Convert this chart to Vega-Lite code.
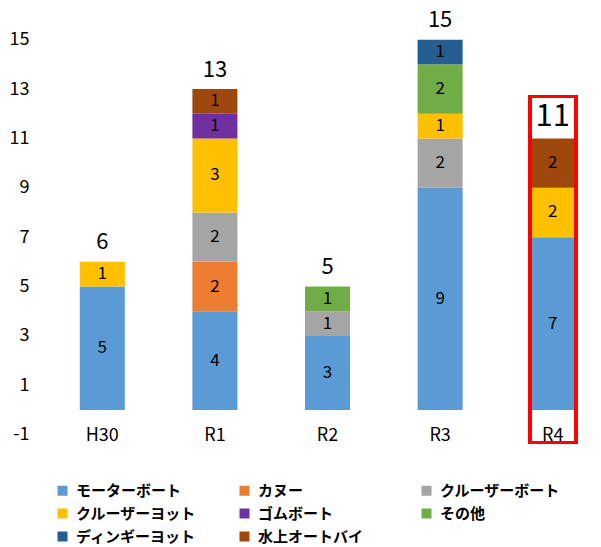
{
  "$schema": "https://vega.github.io/schema/vega-lite/v6.json",
  "autosize": {"type": "none"},
  "width": 554,
  "height": 432,
  "padding": {"left": 47, "top": 15, "right": 0, "bottom": 100},
  "background": "white",
  "config": {
    "font": "Noto Sans CJK JP",
    "view": {"stroke": null}
  },
  "data": {
    "values": [
      {"year": "H30", "type": "モーターボート", "count": 5},
      {"year": "H30", "type": "クルーザーヨット", "count": 1},
      {"year": "R1", "type": "モーターボート", "count": 4},
      {"year": "R1", "type": "カヌー", "count": 2},
      {"year": "R1", "type": "クルーザーボート", "count": 2},
      {"year": "R1", "type": "クルーザーヨット", "count": 3},
      {"year": "R1", "type": "ゴムボート", "count": 1},
      {"year": "R1", "type": "水上オートバイ", "count": 1},
      {"year": "R2", "type": "モーターボート", "count": 3},
      {"year": "R2", "type": "クルーザーボート", "count": 1},
      {"year": "R2", "type": "その他", "count": 1},
      {"year": "R3", "type": "モーターボート", "count": 9},
      {"year": "R3", "type": "クルーザーボート", "count": 2},
      {"year": "R3", "type": "クルーザーヨット", "count": 1},
      {"year": "R3", "type": "その他", "count": 2},
      {"year": "R3", "type": "ディンギーヨット", "count": 1},
      {"year": "R4", "type": "モーターボート", "count": 7},
      {"year": "R4", "type": "クルーザーヨット", "count": 2},
      {"year": "R4", "type": "水上オートバイ", "count": 2}
    ]
  },
  "transform": [
    {"window": [{"op": "row_number", "as": "seq"}]}
  ],
  "encoding": {
    "x": {
      "field": "year",
      "type": "nominal",
      "sort": ["H30", "R1", "R2", "R3", "R4"],
      "scale": {"paddingInner": 0.6, "paddingOuter": 0.26, "align": 0.56},
      "axis": {
        "title": null,
        "domain": false,
        "ticks": false,
        "tickSize": 0,
        "labelAngle": 0,
        "labelFontSize": 18,
        "labelColor": "#000000",
        "labelBaseline": "middle",
        "labelPadding": -12
      }
    }
  },
  "layer": [
    {
      "mark": {"type": "bar"},
      "encoding": {
        "y": {
          "field": "count",
          "type": "quantitative",
          "stack": "zero",
          "scale": {"domain": [-1.5, 16], "nice": false, "zero": false},
          "axis": {
            "title": null,
            "values": [-1, 1, 3, 5, 7, 9, 11, 13, 15],
            "labelExpr": "datum.value < 0 ? '-' + abs(datum.value) : datum.label",
            "domain": false,
            "ticks": false,
            "tickSize": 0,
            "grid": false,
            "labelFontSize": 18,
            "labelColor": "#000000",
            "labelPadding": 18
          }
        },
        "order": {"field": "seq", "type": "quantitative"},
        "color": {
          "field": "type",
          "type": "nominal",
          "sort": ["モーターボート", "カヌー", "クルーザーボート", "クルーザーヨット", "ゴムボート", "その他", "ディンギーヨット", "水上オートバイ"],
          "scale": {
            "domain": ["モーターボート", "カヌー", "クルーザーボート", "クルーザーヨット", "ゴムボート", "その他", "ディンギーヨット", "水上オートバイ"],
            "range": ["#5B9BD5", "#ED7D31", "#A5A5A5", "#FFC000", "#7030A0", "#70AD47", "#255E91", "#9E480E"]
          },
          "legend": {
            "title": null,
            "orient": "none",
            "legendX": 8,
            "legendY": 468,
            "direction": "horizontal",
            "columns": 3,
            "gridAlign": "all",
            "columnPadding": 40,
            "rowPadding": 7,
            "symbolType": "square",
            "symbolSize": 100,
            "symbolStrokeWidth": 0,
            "labelOffset": 6,
            "labelFontSize": 15,
            "labelFontWeight": "bold",
            "labelColor": "#000000",
            "labelLimit": 300
          }
        }
      }
    },
    {
      "mark": {"type": "text", "fontSize": 17, "color": "#000000", "baseline": "middle"},
      "encoding": {
        "y": {"field": "count", "type": "quantitative", "stack": "zero", "bandPosition": 0.5},
        "text": {"field": "count", "type": "quantitative"},
        "order": {"field": "seq", "type": "quantitative"},
        "detail": {"field": "type", "type": "nominal"}
      }
    },
    {
      "transform": [
        {"aggregate": [{"op": "sum", "field": "count", "as": "total"}], "groupby": ["year"]}
      ],
      "mark": {"type": "text", "color": "#000000", "baseline": "alphabetic", "dy": -12.5},
      "encoding": {
        "y": {"field": "total", "type": "quantitative"},
        "text": {"field": "total", "type": "quantitative"},
        "size": {"condition": {"test": "datum.year === 'R4'", "value": 31}, "value": 22}
      }
    },
    {
      "mark": {"type": "rule", "color": "#D9D9D9", "strokeWidth": 1.5},
      "encoding": {"y": {"datum": 0}}
    },
    {
      "mark": {"type": "bar", "fill": "transparent", "stroke": "#FF0000", "strokeWidth": 3, "width": {"band": 1.02}},
      "encoding": {
        "x": {"datum": "R4"},
        "y": {"datum": 12.7},
        "y2": {"datum": -1.32}
      }
    }
  ]
}
